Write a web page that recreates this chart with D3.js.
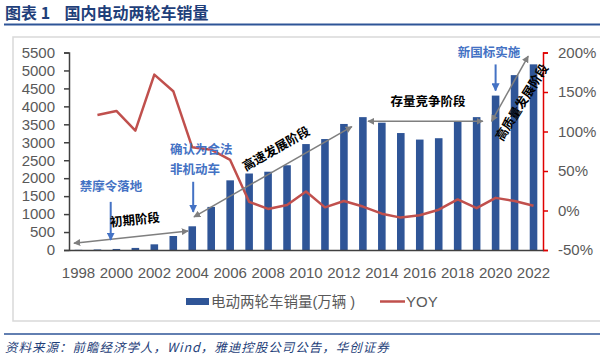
<!DOCTYPE html>
<html><head><meta charset="utf-8">
<script src="https://cdn.jsdelivr.net/npm/d3@7"></script>
<style>
html,body{margin:0;padding:0;background:#fff;}
svg{display:block;font-family:"Liberation Sans","Noto Sans CJK SC",sans-serif;}
</style></head>
<body>
<svg id="c" width="600" height="360"></svg>
<script>
const years = d3.range(1998, 2023);
const sales = [5, 15, 29, 58, 158, 390, 660, 1200, 1940, 2130, 2180, 2360, 2950, 3090, 3510, 3700, 3545, 3257, 3075, 3113, 3590, 3700, 4300, 4870, 5170];
const yoyYears = d3.range(1999, 2023);
const yoy = [121, 126, 101, 172, 151, 80, 77, 64, 11, 2, 7, 24, 4, 12, 5, -4, -9, -6, 1, 14, 3, 16, 12, 6];
const leftTicks = d3.range(0, 5501, 500);
const rightTicks = [-50, 0, 50, 100, 150, 200];
const xTickYears = d3.range(1998, 2023, 2);
const title = "图表 1    国内电动两轮车销量";
const source = "资料来源：前瞻经济学人，Wind，雅迪控股公司公告，华创证券";
const legendBar = "电动两轮车销量(万辆 )";
const legendLine = "YOY";

// annotations in data coordinates (fractional year, sales value)
const grayArrows = [
  [[1997.76, 190], [2003.78, 530]],
  [[2004.09, 920], [2012.42, 3435]],
  [[2013.27, 3584], [2019.33, 3584]],
  [[2019.79, 3584], [2021.72, 5400]]
];
const blueArrows = [
  [[1999.7, 1340], [1999.7, 280]],
  [[2004.05, 1900], [2004.05, 1060]],
  [[2020.0, 5168], [2020.0, 4440]]
];
const blueTexts = [
  {t: "禁摩令落地", yr: 1999.71, v: 1760, anchor: "middle"},
  {t: "确认为合法", yr: 2002.83, v: 2793, anchor: "start"},
  {t: "非机动车", yr: 2002.83, v: 2235, anchor: "start"},
  {t: "新国标实施", yr: 2019.65, v: 5490, anchor: "middle"}
];
const stageTexts = [
  {t: "初期阶段", yr: 2000.98, v: 838, rot: -6},
  {t: "高速发展阶段", yr: 2008.42, v: 2820, rot: -30},
  {t: "存量竞争阶段", yr: 2016.43, v: 4140, rot: 0},
  {t: "高质量发展阶段", yr: 2021.39, v: 4110, rot: -58}
];

const svg = d3.select("#c");
const L = 69, R = 543, T = 52.5, B = 250;

const x = d3.scaleBand().domain(years).range([L, R]).paddingInner(0.6).paddingOuter(0.3);
const step = x.step();
const xc = yr => x(years[0]) + x.bandwidth() / 2 + (yr - years[0]) * step;
const y = d3.scaleLinear().domain([0, 5500]).range([B, T]);
const y2 = d3.scaleLinear().domain([-50, 200]).range([B, T]);

// title
svg.append("text").attr("x", 5).attr("y", 19).attr("fill", "#1F3F7A")
  .attr("font-size", 16).attr("font-weight", "bold")
  .attr("font-family", "'Noto Sans CJK SC',sans-serif").style("white-space", "pre")
  .text(title);
svg.append("line").attr("x1", 4).attr("x2", 600).attr("y1", 24.5).attr("y2", 24.5)
  .attr("stroke", "#2E5597").attr("stroke-width", 2);

// frame
svg.append("rect").attr("x", 13).attr("y", 37).attr("width", 590).attr("height", 284)
  .attr("fill", "none").attr("stroke", "#d9d9d9").attr("stroke-width", 1.5);

// bars
svg.append("g").selectAll("rect").data(years).join("rect")
  .attr("x", d => x(d)).attr("width", x.bandwidth())
  .attr("y", (d, i) => y(sales[i])).attr("height", (d, i) => B - y(sales[i]))
  .attr("fill", "#2F5597");

// left axis
const gl = svg.append("g").attr("transform", `translate(${L},0)`)
  .call(d3.axisLeft(y).tickValues(leftTicks).tickSize(5).tickPadding(9).tickFormat(d3.format("d")));
gl.select(".domain").attr("stroke", "#404040").attr("stroke-width", 1.5);
gl.selectAll(".tick line").attr("stroke", "#404040").attr("stroke-width", 1.5);
gl.selectAll("text").attr("font-size", 15).attr("fill", "#595959")
  .attr("font-family", "'Liberation Sans',sans-serif");

// right axis
const gr = svg.append("g").attr("transform", `translate(${R},0)`)
  .call(d3.axisRight(y2).tickValues(rightTicks).tickSize(5).tickPadding(10).tickFormat(d => d + "%"));
gr.select(".domain").attr("stroke", "#E00000").attr("stroke-width", 1.5);
gr.selectAll(".tick line").attr("stroke", "#E00000").attr("stroke-width", 1.5);
gr.selectAll("text").attr("font-size", 15).attr("fill", "#595959")
  .attr("font-family", "'Liberation Sans',sans-serif");

// bottom axis
const gb = svg.append("g").attr("transform", `translate(0,${B})`)
  .call(d3.axisBottom(x).tickValues(xTickYears).tickSize(0).tickPadding(17));
gb.select(".domain").attr("stroke", "#404040").attr("stroke-width", 1.5);
gb.selectAll("text").attr("font-size", 15).attr("fill", "#595959")
  .attr("font-family", "'Liberation Sans',sans-serif");

// yoy line
const line = d3.line().x((d, i) => x(yoyYears[i]) + x.bandwidth() / 2).y(d => y2(d));
svg.append("path").datum(yoy).attr("d", line).attr("fill", "none")
  .attr("stroke", "#C0504D").attr("stroke-width", 2.5).attr("stroke-linejoin", "round");

// markers
const defs = svg.append("defs");
defs.append("marker").attr("id", "ga").attr("viewBox", "0 0 10 10").attr("refX", 9).attr("refY", 5)
  .attr("markerWidth", 7).attr("markerHeight", 7).attr("markerUnits", "userSpaceOnUse")
  .attr("orient", "auto-start-reverse")
  .append("path").attr("d", "M0,0 L10,5 L0,10 z").attr("fill", "#7F7F7F");
defs.append("marker").attr("id", "ba").attr("viewBox", "0 0 10 10").attr("refX", 9).attr("refY", 5)
  .attr("markerWidth", 8).attr("markerHeight", 8).attr("markerUnits", "userSpaceOnUse")
  .attr("orient", "auto")
  .append("path").attr("d", "M0,0 L10,5 L0,10 z").attr("fill", "#4472C4");

svg.append("g").selectAll("line").data(grayArrows).join("line")
  .attr("x1", d => xc(d[0][0])).attr("y1", d => y(d[0][1]))
  .attr("x2", d => xc(d[1][0])).attr("y2", d => y(d[1][1]))
  .attr("stroke", "#7F7F7F").attr("stroke-width", 1.5)
  .attr("marker-start", "url(#ga)").attr("marker-end", "url(#ga)");

svg.append("g").selectAll("line").data(blueArrows).join("line")
  .attr("x1", d => xc(d[0][0])).attr("y1", d => y(d[0][1]))
  .attr("x2", d => xc(d[1][0])).attr("y2", d => y(d[1][1]))
  .attr("stroke", "#4472C4").attr("stroke-width", 2)
  .attr("marker-end", "url(#ba)");

svg.append("g").selectAll("text").data(blueTexts).join("text")
  .attr("x", d => xc(d.yr)).attr("y", d => y(d.v)).attr("dy", "0.35em")
  .attr("text-anchor", d => d.anchor).attr("fill", "#4472C4")
  .attr("font-size", 12.5).attr("font-weight", "bold")
  .attr("font-family", "'Noto Sans CJK SC',sans-serif")
  .text(d => d.t);

svg.append("g").selectAll("text").data(stageTexts).join("text")
  .attr("transform", d => `translate(${xc(d.yr)},${y(d.v)}) rotate(${d.rot})`)
  .attr("dy", "0.35em").attr("text-anchor", "middle").attr("fill", "#000")
  .attr("font-size", 12.5).attr("font-weight", "bold")
  .attr("font-family", "'Noto Sans CJK SC',sans-serif")
  .text(d => d.t);

// legend
const lg = svg.append("g");
lg.append("rect").attr("x", 186).attr("y", 298).attr("width", 23).attr("height", 7).attr("fill", "#2F5597");
lg.append("text").attr("x", 211).attr("y", 302).attr("dy", "0.35em").attr("font-size", 14.5)
  .attr("fill", "#595959").style("white-space", "pre").text(legendBar);
lg.append("line").attr("x1", 380).attr("x2", 405).attr("y1", 301.5).attr("y2", 301.5)
  .attr("stroke", "#C0504D").attr("stroke-width", 2.5);
lg.append("text").attr("x", 406).attr("y", 302).attr("dy", "0.35em").attr("font-size", 15)
  .attr("fill", "#595959").text(legendLine);

// source
svg.append("line").attr("x1", 4).attr("x2", 600).attr("y1", 334).attr("y2", 334)
  .attr("stroke", "#2E5597").attr("stroke-width", 1.5);
svg.append("text").attr("x", 5).attr("y", 348).attr("dy", "0.35em")
  .attr("font-size", 12.5).attr("font-style", "italic").attr("fill", "#1F3F7A")
  .attr("font-family", "'Noto Sans CJK SC',sans-serif").attr("letter-spacing", 1)
  .text(source);
</script>
</body></html>
